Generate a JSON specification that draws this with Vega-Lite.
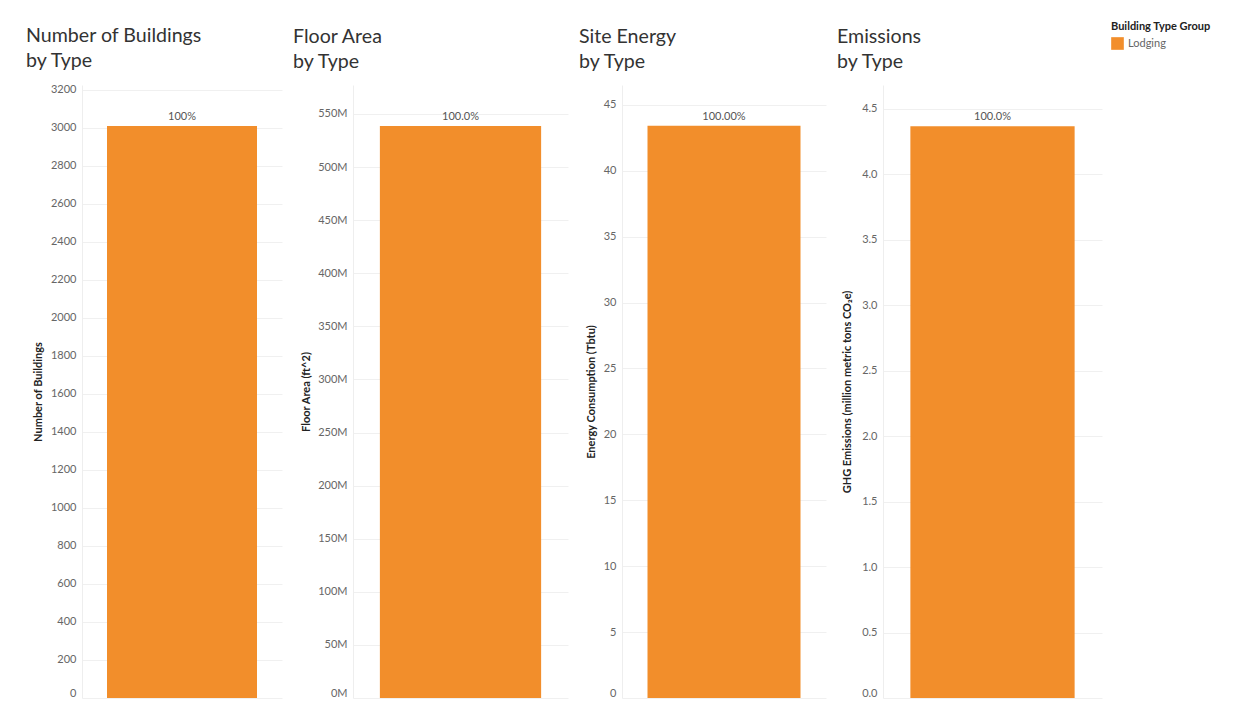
{
  "$schema": "https://vega.github.io/schema/vega-lite/v6.json",
  "padding": {"left": 26, "top": 21, "right": 5, "bottom": 5},
  "background": "white",
  "spacing": 11,
  "config": {
    "font": "Lato",
    "view": {"stroke": null},
    "axis": {
      "labelFont": "Lato",
      "labelFontSize": 11,
      "labelColor": "#666666",
      "labelPadding": 6,
      "ticks": false,
      "domain": true,
      "domainColor": "#eeeeee",
      "gridColor": "#f0f0f0",
      "titleFont": "Lato",
      "titleFontSize": 11,
      "titleFontWeight": "bold",
      "titleColor": "#222222",
      "titlePadding": 8,
      "labelFlush": true
    },
    "title": {
      "anchor": "start",
      "frame": "bounds",
      "font": "Lato",
      "fontSize": 19.6,
      "fontWeight": "normal",
      "color": "#333333",
      "lineHeight": 25,
      "offset": 12
    },
    "legend": {
      "titleFont": "Lato",
      "titleFontSize": 11,
      "titleFontWeight": "bold",
      "titleColor": "#222222",
      "labelFont": "Lato",
      "labelFontSize": 11,
      "labelColor": "#666666",
      "symbolType": "square",
      "symbolSize": 160,
      "symbolStrokeWidth": 0
    }
  },
  "datasets": {
    "d": [
      {"group": "Lodging", "buildings": 3010, "floor_area": 538700000, "site_energy": 43.4, "emissions": 4.366, "share": 1}
    ]
  },
  "data": {"name": "d"},
  "hconcat": [
    {
      "title": {"text": ["Number of Buildings", "by Type"], "dx": -6},
      "width": 200,
      "height": 613,
      "encoding": {
        "x": {"field": "group", "type": "nominal", "axis": null, "scale": {"paddingInner": 0, "paddingOuter": 0}},
        "y": {"field": "buildings", "type": "quantitative", "scale": {"domain": [0, 3226], "nice": false}, "axis": {"title": "Number of Buildings", "minExtent": 31, "maxExtent": 31, "values": [0, 200, 400, 600, 800, 1000, 1200, 1400, 1600, 1800, 2000, 2200, 2400, 2600, 2800, 3000, 3200], "format": "d"}}
      },
      "layer": [
        {"mark": {"type": "bar", "width": {"band": 0.75}}, "encoding": {"color": {"field": "group", "type": "nominal", "scale": {"range": ["#F28E2B"]}, "legend": {"title": "Building Type Group", "orient": "none", "legendX": 1029, "legendY": -64}}}},
        {"mark": {"type": "text", "baseline": "bottom", "dy": -4, "fontSize": 11, "color": "#555555"}, "encoding": {"text": {"field": "share", "type": "quantitative", "format": ".0%"}}}
      ]
    },
    {
      "title": {"text": ["Floor Area", "by Type"], "dx": -7},
      "width": 215,
      "height": 613,
      "encoding": {
        "x": {"field": "group", "type": "nominal", "axis": null, "scale": {"paddingInner": 0, "paddingOuter": 0}},
        "y": {"field": "floor_area", "type": "quantitative", "scale": {"domain": [0, 577300000], "nice": false}, "axis": {"title": "Floor Area (ft^2)", "minExtent": 34, "maxExtent": 34, "values": [0, 50000000, 100000000, 150000000, 200000000, 250000000, 300000000, 350000000, 400000000, 450000000, 500000000, 550000000], "labelExpr": "format(datum.value / 1000000, 'd') + 'M'"}}
      },
      "layer": [
        {"mark": {"type": "bar", "width": {"band": 0.75}}, "encoding": {"color": {"field": "group", "type": "nominal", "scale": {"range": ["#F28E2B"]}, "legend": {"title": "Building Type Group", "orient": "none", "legendX": 1029, "legendY": -64}}}},
        {"mark": {"type": "text", "baseline": "bottom", "dy": -4, "fontSize": 11, "color": "#555555"}, "encoding": {"text": {"field": "share", "type": "quantitative", "format": ".1%"}}}
      ]
    },
    {
      "title": {"text": ["Site Energy", "by Type"], "dx": -6},
      "width": 204,
      "height": 613,
      "encoding": {
        "x": {"field": "group", "type": "nominal", "axis": null, "scale": {"paddingInner": 0, "paddingOuter": 0}},
        "y": {"field": "site_energy", "type": "quantitative", "scale": {"domain": [0, 46.5], "nice": false}, "axis": {"title": "Energy Consumption (Tbtu)", "minExtent": 18, "maxExtent": 18, "values": [0, 5, 10, 15, 20, 25, 30, 35, 40, 45], "format": "d"}}
      },
      "layer": [
        {"mark": {"type": "bar", "width": {"band": 0.75}}, "encoding": {"color": {"field": "group", "type": "nominal", "scale": {"range": ["#F28E2B"]}, "legend": {"title": "Building Type Group", "orient": "none", "legendX": 1029, "legendY": -64}}}},
        {"mark": {"type": "text", "baseline": "bottom", "dy": -4, "fontSize": 11, "color": "#555555"}, "encoding": {"text": {"field": "share", "type": "quantitative", "format": ".2%"}}}
      ]
    },
    {
      "title": {"text": ["Emissions", "by Type"], "dx": -4},
      "width": 219,
      "height": 613,
      "encoding": {
        "x": {"field": "group", "type": "nominal", "axis": null, "scale": {"paddingInner": 0, "paddingOuter": 0}},
        "y": {"field": "emissions", "type": "quantitative", "scale": {"domain": [0, 4.68], "nice": false}, "axis": {"title": "GHG Emissions (million metric tons CO₂e)", "minExtent": 23, "maxExtent": 23, "values": [0, 0.5, 1, 1.5, 2, 2.5, 3, 3.5, 4, 4.5], "format": ".1f"}}
      },
      "layer": [
        {"mark": {"type": "bar", "width": {"band": 0.75}}, "encoding": {"color": {"field": "group", "type": "nominal", "scale": {"range": ["#F28E2B"]}, "legend": {"title": "Building Type Group", "orient": "none", "legendX": 1029, "legendY": -64}}}},
        {"mark": {"type": "text", "baseline": "bottom", "dy": -4, "fontSize": 11, "color": "#555555"}, "encoding": {"text": {"field": "share", "type": "quantitative", "format": ".1%"}}}
      ]
    }
  ]
}
